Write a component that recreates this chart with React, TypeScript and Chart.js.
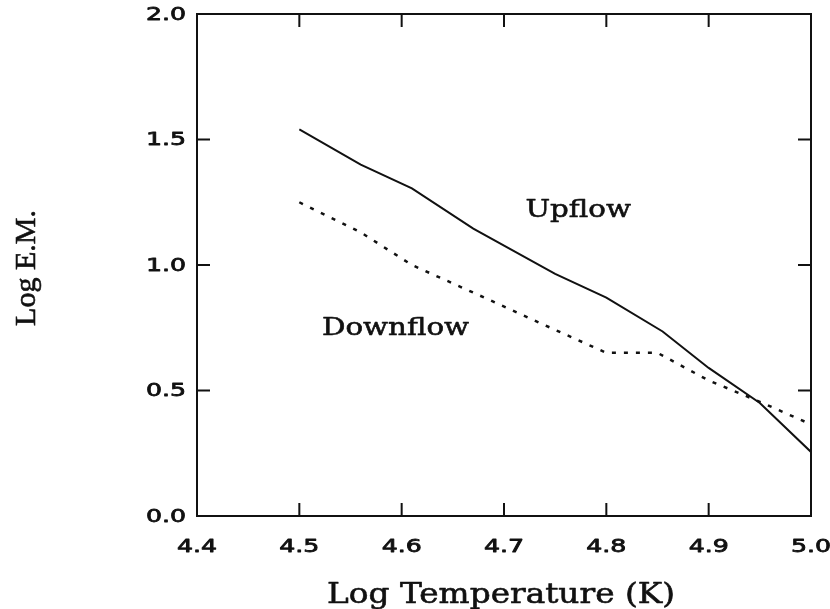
import React, { useEffect, useRef } from "react";
import { Chart, registerables } from "chart.js";

Chart.register(...registerables);

// ---- data ----
const upflowT = [4.5, 4.56, 4.61, 4.67, 4.75, 4.8, 4.855, 4.9, 4.95, 5.0];
const upflowEM = [1.54, 1.4, 1.305, 1.145, 0.965, 0.87, 0.735, 0.59, 0.45, 0.255];
const downflowT = [4.5, 4.56, 4.61, 4.67, 4.74, 4.8, 4.85, 4.9, 4.95, 5.0];
const downflowEM = [1.25, 1.13, 1.0, 0.89, 0.76, 0.65, 0.65, 0.54, 0.455, 0.365];

const xTicks = [4.4, 4.5, 4.6, 4.7, 4.8, 4.9, 5.0];
const yTicks = [0.0, 0.5, 1.0, 1.5, 2.0];
const xTitle = "Log Temperature (K)";
const yTitle = "Log E.M.";

const noteLabels = ["Upflow", "Downflow"];
const noteX = [4.7725, 4.594];
const noteY = [1.19, 0.721];

const INK = "#111";

function scaledText(
  ctx: CanvasRenderingContext2D,
  text: string,
  x: number,
  y: number,
  sx: number,
  align: CanvasTextAlign,
  baseline: CanvasTextBaseline,
  bold: number
) {
  ctx.save();
  ctx.translate(x, y);
  ctx.scale(sx, 1);
  ctx.textAlign = align;
  ctx.textBaseline = baseline;
  ctx.fillText(text, 0, 0);
  if (bold > 0) {
    ctx.lineWidth = bold;
    ctx.lineJoin = "round";
    ctx.strokeText(text, 0, 0);
  }
  ctx.restore();
}

const framePlugin = {
  id: "frameAndText",
  afterDatasetsDraw(chart: any) {
    const ctx: CanvasRenderingContext2D = chart.ctx;
    const { left, right, top, bottom } = chart.chartArea;
    const xs = chart.scales.x;
    const ys = chart.scales.y;
    ctx.save();
    ctx.strokeStyle = INK;
    ctx.fillStyle = INK;
    ctx.lineWidth = 2;
    ctx.setLineDash([]);
    ctx.strokeRect(left, top, right - left, bottom - top);
    const tl = 13;
    ctx.beginPath();
    xTicks.forEach((v) => {
      const px = xs.getPixelForValue(v);
      ctx.moveTo(px, bottom);
      ctx.lineTo(px, bottom - tl);
      ctx.moveTo(px, top);
      ctx.lineTo(px, top + tl);
    });
    yTicks.forEach((v) => {
      const py = ys.getPixelForValue(v);
      ctx.moveTo(left, py);
      ctx.lineTo(left + tl, py);
      ctx.moveTo(right, py);
      ctx.lineTo(right - tl, py);
    });
    ctx.stroke();

    // tick labels
    ctx.font = "18px 'DejaVu Sans'";
    xTicks.forEach((v) => {
      const px = xs.getPixelForValue(v);
      scaledText(ctx, v.toFixed(1), px, bottom + 31, 1.4, "center", "middle", 0.8);
    });
    yTicks.forEach((v) => {
      const py = ys.getPixelForValue(v);
      scaledText(ctx, v.toFixed(1), left - 11, py + 1, 1.4, "right", "middle", 0.8);
    });

    // x title
    ctx.font = "28px 'DejaVu Serif'";
    scaledText(ctx, xTitle, (left + right) / 2 - 3, 603, 1.17, "center", "alphabetic", 0.6);

    // y title
    ctx.save();
    ctx.font = "30px 'Liberation Serif'";
    ctx.translate(35, (top + bottom) / 2 + 3);
    ctx.rotate(-Math.PI / 2);
    ctx.textAlign = "center";
    ctx.textBaseline = "alphabetic";
    ctx.fillText(yTitle, 0, 0);
    ctx.lineWidth = 0.6;
    ctx.strokeText(yTitle, 0, 0);
    ctx.restore();

    // annotations
    ctx.font = "25px 'DejaVu Serif'";
    noteLabels.forEach((t, i) => {
      scaledText(
        ctx,
        t,
        xs.getPixelForValue(noteX[i]),
        ys.getPixelForValue(noteY[i]),
        1.17,
        "center",
        "alphabetic",
        0.6
      );
    });
    ctx.restore();
  },
};

export default function App() {
  const ref = useRef<HTMLCanvasElement | null>(null);
  useEffect(() => {
    if (!ref.current) return;
    const chart = new Chart(ref.current, {
      type: "line",
      data: {
        datasets: [
          {
            label: "Upflow",
            data: upflowT.map((t, i) => ({ x: t, y: upflowEM[i] })),
            borderColor: INK,
            borderWidth: 2,
            pointRadius: 0,
            tension: 0,
            fill: false,
          },
          {
            label: "Downflow",
            data: downflowT.map((t, i) => ({ x: t, y: downflowEM[i] })),
            borderColor: INK,
            borderWidth: 2.5,
            borderDash: [4, 8],
            pointRadius: 0,
            tension: 0,
            fill: false,
          },
        ],
      },
      options: {
        responsive: false,
        animation: false,
        layout: { padding: { left: 197, right: 19, top: 14, bottom: 93 } },
        plugins: {
          legend: { display: false },
          tooltip: { enabled: false },
          title: { display: false },
        },
        scales: {
          x: { type: "linear", min: 4.4, max: 5.0, display: false },
          y: { type: "linear", min: 0, max: 2, display: false },
        },
      },
      plugins: [framePlugin],
    });
    return () => chart.destroy();
  }, []);
  return (
    <div style={{ position: "absolute", left: 0, top: 0, width: 830, height: 609, background: "#fff" }}>
      <canvas ref={ref} width={830} height={609} style={{ display: "block" }} />
    </div>
  );
}
